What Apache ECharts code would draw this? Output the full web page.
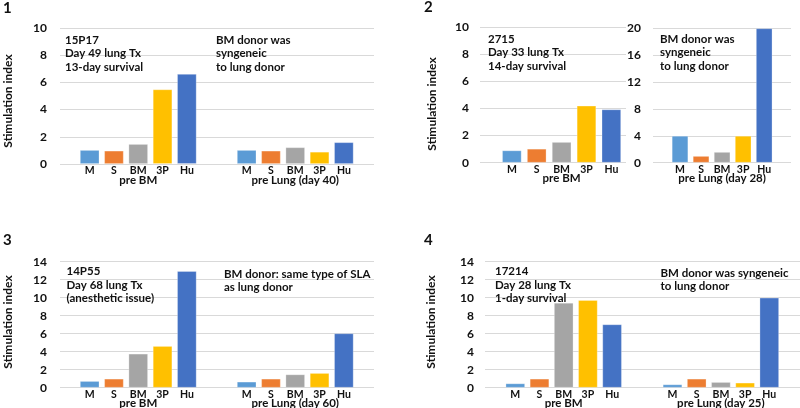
<!DOCTYPE html>
<html><head><meta charset="utf-8">
<script src="https://cdn.jsdelivr.net/npm/echarts@6/dist/echarts.min.js"></script>
<style>html,body{margin:0;padding:0;background:#fff}#c{width:800px;height:408px}</style>
</head><body><div id="c"></div>
<script>
const categories = ['M', 'S', 'BM', '3P', 'Hu'];
const barColors = ['#5B9BD5', '#ED7D31', '#A5A5A5', '#FFC000', '#4472C4'];

const panel1PreBM = [1.03, 0.98, 1.47, 5.49, 6.62];
const panel1PreLung = [1.03, 0.98, 1.23, 0.90, 1.60];
const panel2PreBM = [0.91, 1.03, 1.53, 4.21, 3.94];
const panel2PreLung = [4.0, 1.0, 1.6, 4.0, 20.0];
const panel3PreBM = [0.74, 1.0, 3.78, 4.63, 12.96];
const panel3PreLung = [0.67, 1.0, 1.48, 1.63, 6.04];
const panel4PreBM = [0.48, 1.0, 9.44, 9.74, 7.04];
const panel4PreLung = [0.37, 1.0, 0.63, 0.56, 10.0];

const groupNames1 = ['pre BM', 'pre Lung (day 40)'];
const groupNames2 = ['pre BM', 'pre Lung (day 28)'];
const groupNames3 = ['pre BM', 'pre Lung (day 60)'];
const groupNames4 = ['pre BM', 'pre Lung (day 25)'];

const yTicks1 = {min: 0, max: 10, interval: 2};
const yTicks2L = {min: 0, max: 10, interval: 2};
const yTicks2R = {min: 0, max: 20, interval: 4};
const yTicks3 = {min: 0, max: 14, interval: 2};
const yTicks4 = {min: 0, max: 14, interval: 2};

const FONT = 'Lato, "Liberation Sans", Arial, sans-serif';
const TXT = '#111';

const grid = [], xAxis = [], yAxis = [], series = [];

function bgGrid(left, top, width, height, ticks, margin) {
  const gi = grid.length;
  grid.push({left, top, width, height, containLabel: false, outerBoundsMode: 'none'});
  xAxis.push({gridIndex: gi, type: 'value', show: false, min: 0, max: 1});
  yAxis.push({gridIndex: gi, type: 'value', min: ticks.min, max: ticks.max, interval: ticks.interval,
    axisLine: {show: false}, axisTick: {show: false},
    axisLabel: {margin, fontFamily: FONT, fontSize: 12, fontWeight: 'bold', color: TXT},
    splitLine: {lineStyle: {color: '#D9D9D9', width: 1}}});
}
function barGrid(left, top, width, height, ticks, values, groupName, barWidth, nameGap) {
  const gi = grid.length;
  grid.push({left, top, width, height, containLabel: false, outerBoundsMode: 'none'});
  xAxis.push({gridIndex: gi, type: 'category', data: categories,
    axisLine: {show: false}, axisTick: {show: false},
    axisLabel: {margin: 1, fontFamily: FONT, fontSize: 10.5, fontWeight: 'bold', color: TXT, interval: 0},
    name: groupName, nameLocation: 'middle', nameGap: nameGap, nameMoveOverlap: false,
    nameTextStyle: {fontFamily: FONT, fontSize: 11.5, fontWeight: 'bold', color: TXT, verticalAlign: 'middle'}});
  yAxis.push({gridIndex: gi, type: 'value', min: ticks.min, max: ticks.max, interval: ticks.interval, show: false, splitLine: {show: false}});
  series.push({type: 'bar', xAxisIndex: gi, yAxisIndex: gi, data: values, barWidth,
    colorBy: 'data', itemStyle: {borderColor: 'rgba(255,255,255,0.35)', borderWidth: 0.8}, animation: false});
}

// Panel 1
bgGrid(60, 28, 314, 136, yTicks1, 13);
barGrid(77.5, 28, 121.5, 136, yTicks1, panel1PreBM, groupNames1[0], 19.5, 16.5);
barGrid(234.5, 28, 121.5, 136, yTicks1, panel1PreLung, groupNames1[1], 19.5, 16.5);
// Panel 2
bgGrid(480, 27.3, 146, 135.4, yTicks2L, 11);
barGrid(499.4, 27.3, 124.4, 135.4, yTicks2L, panel2PreBM, groupNames2[0], 19.5, 16);
bgGrid(653, 28.3, 138, 134.4, yTicks2R, 12);
barGrid(669.5, 28.3, 105.2, 134.4, yTicks2R, panel2PreLung, groupNames2[1], 16.5, 15.5);
// Panel 3
bgGrid(60, 261.7, 314, 126, yTicks3, 13);
barGrid(77.5, 261.7, 121.5, 126, yTicks3, panel3PreBM, groupNames3[0], 19.5, 16);
barGrid(234.5, 261.7, 121.5, 126, yTicks3, panel3PreLung, groupNames3[1], 19.5, 16);
// Panel 4
bgGrid(485, 261.7, 315, 126, yTicks4, 11);
barGrid(503.2, 261.7, 121, 126, yTicks4, panel4PreBM, groupNames4[0], 19.5, 16);
barGrid(660.4, 261.7, 121, 126, yTicks4, panel4PreLung, groupNames4[1], 19.5, 16);

const ANN = 'bold 11.5px ' + FONT;
function txt(x, y, text, opts) {
  return Object.assign({type: 'text', x, y, silent: true, z: 100,
    style: Object.assign({text, fill: TXT, font: ANN, lineHeight: 13.5}, opts || {})});
}
function axTitle(x, y) {
  return {type: 'text', x, y, rotation: Math.PI / 2, silent: true,
    style: {text: 'Stimulation index', font: 'bold 12px ' + FONT, fill: TXT, align: 'center', verticalAlign: 'middle'}};
}
const graphic = [
  txt(3, 1, '1', {font: 'bold 15px ' + FONT}),
  txt(424, 0, '2', {font: 'bold 15px ' + FONT}),
  txt(3, 233, '3', {font: 'bold 15px ' + FONT}),
  txt(424, 233, '4', {font: 'bold 15px ' + FONT}),
  axTitle(8, 101),
  axTitle(432, 104),
  axTitle(8, 322),
  axTitle(431, 322),
  txt(65, 33.5, '15P17\nDay 49 lung Tx\n13-day survival'),
  txt(216, 33.5, 'BM donor was\nsyngeneic\nto lung donor'),
  txt(488, 32.5, '2715\nDay 33 lung Tx\n14-day survival'),
  txt(660, 32.5, 'BM donor was\nsyngeneic\nto lung donor'),
  txt(66.5, 265, '14P55\nDay 68 lung Tx\n(anesthetic issue)'),
  txt(224, 267.3, 'BM donor: same type of SLA\nas lung donor'),
  txt(495, 265, '17214\nDay 28 lung Tx\n1-day survival'),
  txt(660.5, 266.5, 'BM donor was syngeneic\nto lung donor')
];

const chart = echarts.init(document.getElementById('c'), null, {renderer: 'canvas'});
chart.setOption({
  animation: false,
  backgroundColor: '#fff',
  color: barColors,
  grid, xAxis, yAxis, series, graphic
});
</script></body></html>
